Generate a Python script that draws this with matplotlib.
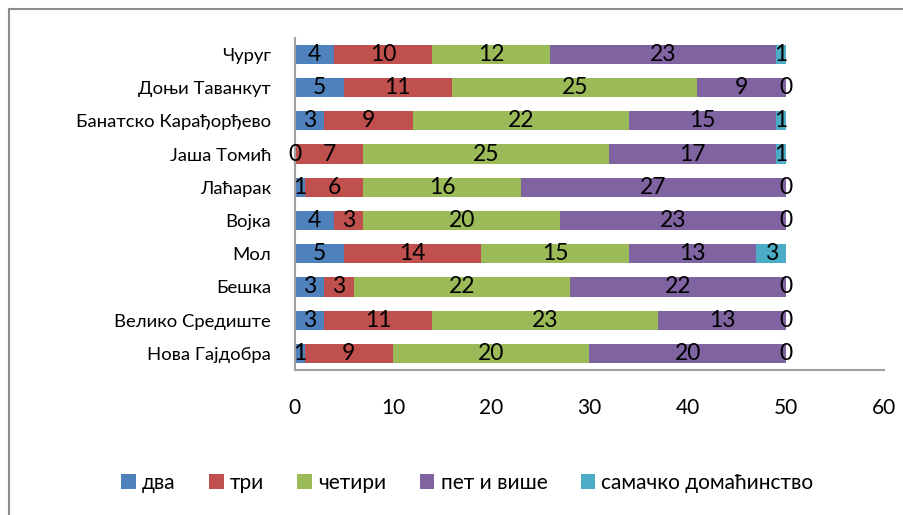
import matplotlib
matplotlib.use("Agg")
import matplotlib.pyplot as plt
from matplotlib.lines import Line2D
import numpy as np

categories = ["Чуруг", "Доњи Таванкут", "Банатско Карађорђево", "Јаша Томић", "Лаћарак",
              "Војка", "Мол", "Бешка", "Велико Средиште", "Нова Гајдобра"]
series_names = ["два", "три", "четири", "пет и више", "самачко домаћинство"]
dva = [4, 5, 3, 0, 1, 4, 5, 3, 3, 1]
tri = [10, 11, 9, 7, 6, 3, 14, 3, 11, 9]
cetiri = [12, 25, 22, 25, 16, 20, 15, 22, 23, 20]
pet = [23, 9, 15, 17, 27, 23, 13, 22, 13, 20]
samacko = [1, 0, 1, 1, 0, 0, 3, 0, 0, 0]
xticks = [0, 10, 20, 30, 40, 50, 60]

colors = ["#4F81BD", "#C0504D", "#9BBB59", "#8064A2", "#4BACC6"]

plt.rcParams['font.family'] = ['Lato', 'DejaVu Sans']
fig = plt.figure(figsize=(9.04, 5.15), dpi=100)
ax = fig.add_axes([0.326, 0.2816, 0.652, 0.645])

y = np.arange(len(categories))
left = np.zeros(len(categories))
for name, vals, c in zip(series_names, [dva, tri, cetiri, pet, samacko], colors):
    bars = ax.barh(y, vals, left=left, height=0.58, color=c, label=name)
    ax.bar_label(bars, labels=[str(v) for v in vals], label_type='center',
                 fontsize=16.5, color='black')
    left = left + np.array(vals)

ax.set_ylim(len(categories) - 0.5, -0.5)
ax.set_xlim(0, 60)
ax.set_xticks(xticks)
ax.set_xticklabels([str(t) for t in xticks], fontsize=15)
ax.set_yticks(y)
ax.set_yticklabels(categories, fontsize=13.3)
ax.tick_params(axis='x', length=0, pad=20)
ax.tick_params(axis='y', length=0, pad=17)
for s in ['top', 'right']:
    ax.spines[s].set_visible(False)
for s in ['left', 'bottom']:
    ax.spines[s].set_color('#A0A0A0')
    ax.spines[s].set_linewidth(1.5)

fig.legend(loc='center', bbox_to_anchor=(0.517, 0.062), ncol=5, frameon=False,
           fontsize=15, handlelength=0.7, handleheight=0.7, handletextpad=0.3,
           columnspacing=1.6)

# chart area border (top and left visible)
fig.add_artist(Line2D([9/904, 9/904], [0, 1 - 9/515], transform=fig.transFigure,
                      color='#8C8C8C', lw=1.5))
fig.add_artist(Line2D([9/904, 1], [1 - 9/515, 1 - 9/515], transform=fig.transFigure,
                      color='#8C8C8C', lw=1.5))

fig.savefig("out.png", dpi=100)
